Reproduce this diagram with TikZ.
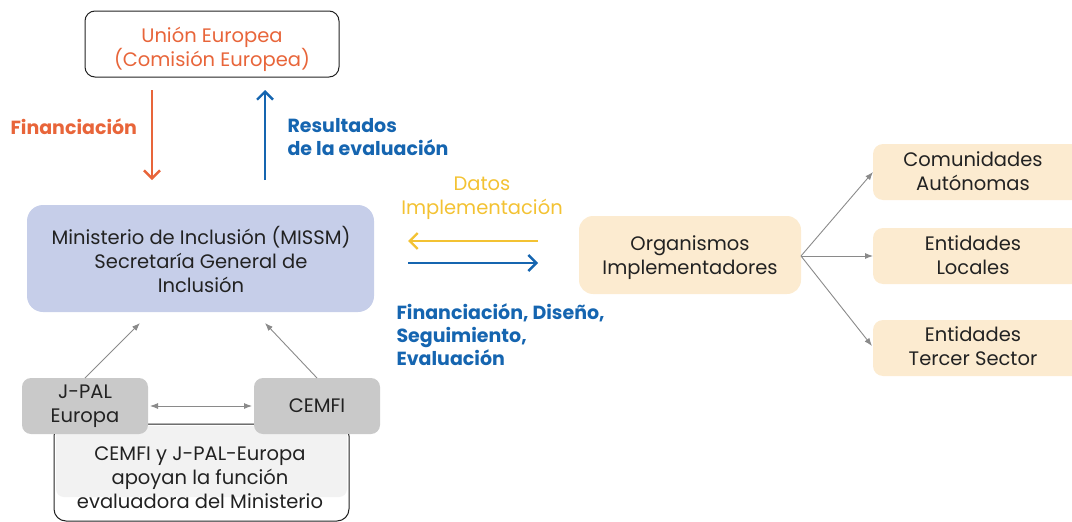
\documentclass[tikz,border=0pt]{standalone}
\usepackage{fontspec}
\setmainfont{Poppins}
\usetikzlibrary{arrows.meta}
\definecolor{cor}{HTML}{E8653A}
\definecolor{cbl}{HTML}{1565B0}
\definecolor{cye}{HTML}{F3C233}
\definecolor{ctx}{HTML}{222222}
\definecolor{cmin}{HTML}{C6CEE9}
\definecolor{corg}{HTML}{FCEBD0}
\definecolor{cgr}{HTML}{C9C9C9}
\definecolor{clg}{HTML}{F2F2F2}
\definecolor{carr}{HTML}{8A8A8A}
\tikzset{
  txt/.style={font=\fontsize{19.5}{24}\selectfont, text=ctx, align=center},
  lbl/.style={font=\fontsize{19}{23}\selectfont\bfseries, align=left, anchor=west},
  bigarrow/.style={line width=2.4pt, -{Straight Barb[length=8pt, width=16pt, line width=2.4pt]}},
  thin/.style={draw=carr, line width=0.9pt, -{Latex[length=8pt, width=6pt]}},
  thinboth/.style={draw=carr, line width=0.9pt, {Latex[length=8pt, width=6pt]}-{Latex[length=8pt, width=6pt]}}
}
\begin{document}
\begin{tikzpicture}[x=1pt,y=-1pt]
\useasboundingbox (0,0) rectangle (1072,522);
% UE box
\draw[ctx, line width=1pt, rounded corners=10pt, fill=white] (85,11) rectangle (339,77);
\node[txt, text=cor] (ue) at (212,49) {Unión Europea\\(Comisión Europea)};
% Ministerio
\fill[cmin, rounded corners=16pt] (27,205) rectangle (374,312);
\node[txt] (min) at (201,259) {Ministerio de Inclusión (MISSM)\\Secretaría General de\\Inclusión};
% arrows UE <-> min
\coordinate (f1) at (152,90); \coordinate (f2) at (152,180);
\coordinate (r1) at (265,180); \coordinate (r2) at (265,90);
\draw[bigarrow, cor] (f1) -- (f2);
\draw[bigarrow, cbl] (r1) -- (r2);
\node[lbl, text=cor] (lf) at (7,127) {Financiación};
\node[lbl, text=cbl] (lr) at (284,137) {Resultados\\de la evaluación};
% Organismos
\fill[corg, rounded corners=14pt] (579,216) rectangle (801,294);
\node[txt] (org) at (690,258) {Organismos\\Implementadores};
\coordinate (a1) at (538,241); \coordinate (a2) at (408,241);
\coordinate (b1) at (408,263); \coordinate (b2) at (538,263);
\draw[bigarrow, cye] (a1) -- (a2);
\draw[bigarrow, cbl] (b1) -- (b2);
\node[txt, text=cye] (ld) at (482,198) {Datos\\Implementación};
\node[lbl, text=cbl] (lb) at (393,335) {Financiación, Diseño,\\Seguimiento,\\Evaluación};
% right boxes
\fill[corg, rounded corners=10pt] (873,144) rectangle (1085,200);
\node[txt] (ca) at (973,171) {Comunidades\\Autónomas};
\fill[corg, rounded corners=10pt] (873,228) rectangle (1085,284);
\node[txt] (el) at (973,255) {Entidades\\Locales};
\fill[corg, rounded corners=10pt] (873,320) rectangle (1085,376);
\node[txt] (et) at (973,346) {Entidades\\Tercer Sector};
\coordinate (o) at (801,256);
\coordinate (t1) at (873,172); \coordinate (t2) at (873,256); \coordinate (t3) at (872,346);
\draw[thin] (o) -- (t1);
\draw[thin] (o) -- (t2);
\draw[thin] (o) -- (t3);
% bottom
\draw[ctx, line width=1pt, rounded corners=12pt, fill=white] (54,424) rectangle (349,521);
\fill[clg, rounded corners=8pt] (56,426) rectangle (347,497);
\node[txt] (sup) at (200,478) {CEMFI y J-PAL-Europa\\apoyan la función\\evaluadora del Ministerio};
\fill[cgr, rounded corners=9pt] (22,378) rectangle (148,434);
\node[txt] (jp) at (85,406) {J-PAL\\Europa};
\fill[cgr, rounded corners=9pt] (254,378) rectangle (380,434);
\node[txt] (ce) at (317,406) {CEMFI};
\coordinate (j1) at (150,406); \coordinate (c1) at (252,406);
\draw[thinboth] (j1) -- (c1);
\coordinate (jt) at (85,378); \coordinate (jm) at (140,323);
\coordinate (ct) at (317,378); \coordinate (cm) at (265,323);
\draw[thin] (jt) -- (jm);
\draw[thin] (ct) -- (cm);
\end{tikzpicture}
\end{document}
